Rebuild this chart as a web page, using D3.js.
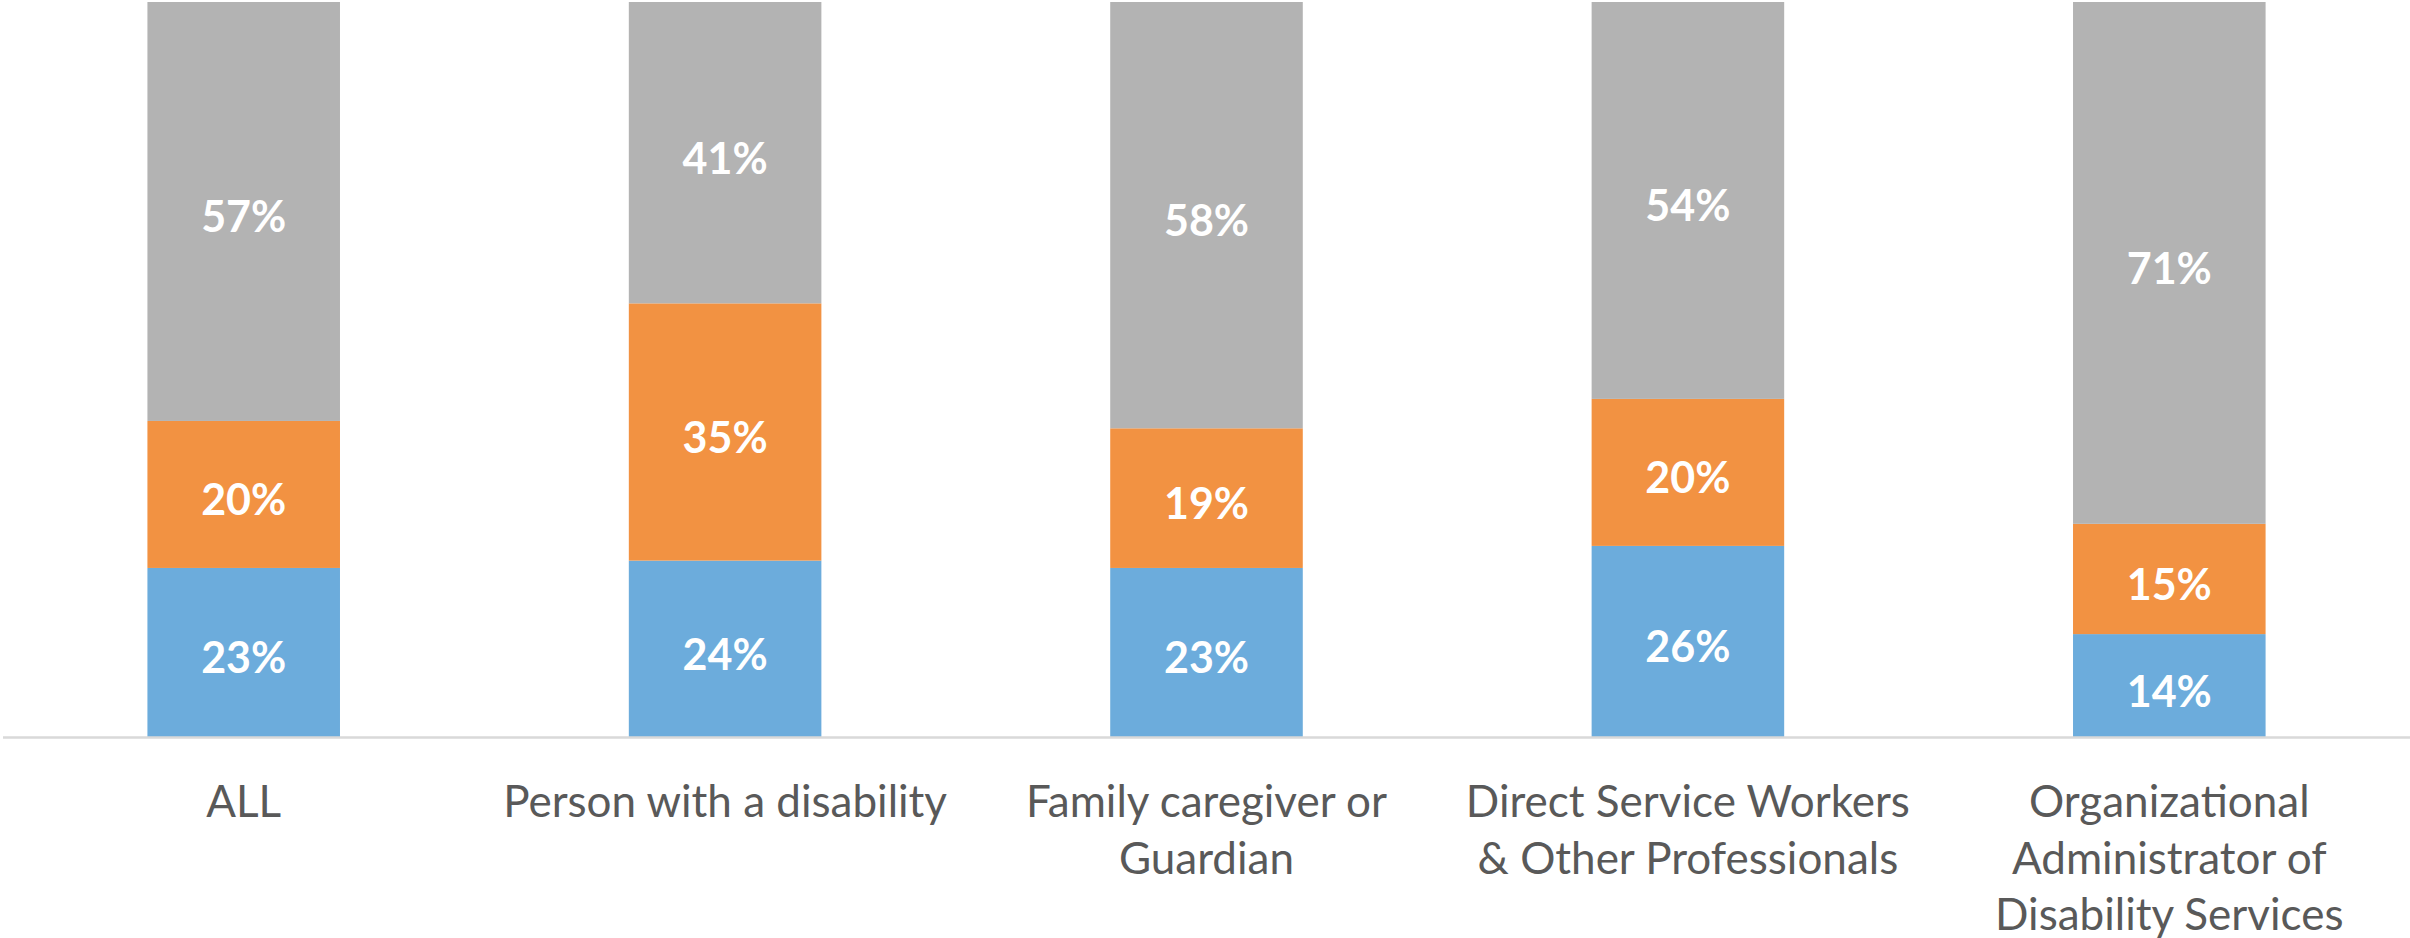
<!DOCTYPE html>
<html>
<head>
<meta charset="utf-8">
<script src="https://cdn.jsdelivr.net/npm/d3@7"></script>
<style>
  html, body { margin: 0; padding: 0; background: #fff; }
  svg { display: block; }
</style>
</head>
<body>
<div id="chart"></div>
<script>
// categories (each entry is the list of lines shown under the bar)
const categories = [
  ["ALL"],
  ["Person with a disability"],
  ["Family caregiver or", "Guardian"],
  ["Direct Service Workers", "& Other Professionals"],
  ["Organizational", "Administrator of", "Disability Services"]
];
// series values, in percent, bottom to top
const blueValues   = [23, 24, 23, 26, 14];
const orangeValues = [20, 35, 19, 20, 15];
const greyValues   = [57, 41, 58, 54, 71];

const width = 2410, height = 938;
const baseY = 737, topY = 2;

const keys = ["blue", "orange", "grey"];
const colors = {blue: "#6cacdc", orange: "#f29242", grey: "#b3b3b3"};

let rows = categories.map((c, i) => ({
  name: c.join(" "),
  lines: c,
  blue: blueValues[i],
  orange: orangeValues[i],
  grey: greyValues[i]
}));

let svg = d3.select("#chart").append("svg")
  .attr("width", width)
  .attr("height", height);

let x = d3.scaleBand()
  .domain(rows.map(d => d.name))
  .range([3, 2410])
  .paddingInner(0.6)
  .paddingOuter(0.3);

let y = d3.scaleLinear()
  .domain([0, 100])
  .range([baseY, topY]);

let stacked = d3.stack().keys(keys)(rows);

let layers = svg.append("g").selectAll("g")
  .data(stacked)
  .join("g")
  .attr("fill", d => colors[d.key]);

layers.selectAll("rect")
  .data(d => d)
  .join("rect")
  .attr("x", d => x(d.data.name))
  .attr("y", d => y(d[1]))
  .attr("width", x.bandwidth())
  .attr("height", d => y(d[0]) - y(d[1]));

//data labels
layers.selectAll("text")
  .data(d => d)
  .join("text")
  .attr("x", d => x(d.data.name) + x.bandwidth() / 2)
  .attr("y", d => (y(d[0]) + y(d[1])) / 2 + 21)
  .attr("text-anchor", "middle")
  .attr("fill", "#fff")
  .attr("font-family", "Lato, 'Open Sans', sans-serif")
  .attr("font-weight", "bold")
  .attr("font-size", 43)
  .text(d => (d[1] - d[0]) + "%");

//x axis
let xAxis = svg.append("g")
  .attr("transform", `translate(0,${baseY})`)
  .call(d3.axisBottom(x).tickSize(0).tickPadding(0));

xAxis.select(".domain")
  .attr("d", `M3,0.5H${width}`)
  .attr("stroke", "#d9d9d9")
  .attr("stroke-width", 2.5);

xAxis.selectAll(".tick text").each(function(name) {
  let row = rows.find(r => r.name === name);
  let t = d3.select(this)
    .text(null)
    .attr("y", 0)
    .attr("dy", null)
    .attr("fill", "#595959")
    .attr("font-family", "Lato, 'Open Sans', sans-serif")
    .attr("font-size", 44);
  row.lines.forEach((line, i) => {
    t.append("tspan")
      .attr("x", 0)
      .attr("y", 80 + i * 56.5)
      .text(line);
  });
});
</script>
</body>
</html>
